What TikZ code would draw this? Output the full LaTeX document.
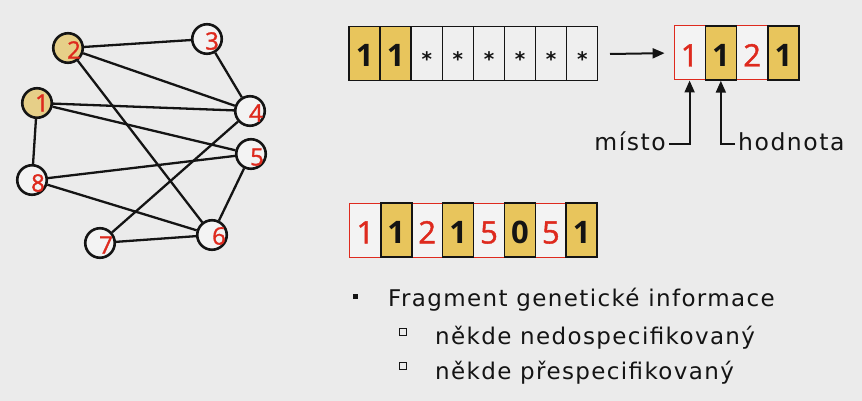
\documentclass[tikz,border=0pt]{standalone}
\usepackage{fontspec}
\setmainfont{DejaVu Sans}
\newfontfamily\spaced[LetterSpace=6]{DejaVu Sans}
\newfontfamily\spacedlab[LetterSpace=6.5]{DejaVu Sans}
\newfontfamily\digfont{Open Sans}
\newfontfamily\digsemi[FakeBold=1.3]{Open Sans}
\usetikzlibrary{arrows.meta}
\definecolor{bg}{HTML}{EBEBEB}
\definecolor{cellyel}{HTML}{E8C55C}
\definecolor{nodeyel}{HTML}{E6CF88}
\definecolor{cellgray}{HTML}{EFEFEF}
\definecolor{cellwhite}{HTML}{F3F3F3}
\definecolor{myred}{HTML}{DE2A1E}
\definecolor{ink}{HTML}{141414}
\begin{document}
\begin{tikzpicture}[x=1pt,y=-1pt,
  vert/.style={circle, draw=ink, line width=2.6pt, minimum size=29.5pt, inner sep=0pt, fill=cellwhite},
  yvert/.style={vert, fill=nodeyel},
  vlbl/.style={text=myred, font=\fontsize{24}{24}\digsemi, inner sep=0pt},
  edge/.style={draw=ink, line width=2.3pt},
  cellbase/.style={rectangle, minimum width=31pt, minimum height=54pt, inner sep=0pt, text height=27pt, text depth=0pt},
  ycell/.style={cellbase, fill=cellyel, draw=ink, line width=1.5pt, font=\fontsize{31}{31}\digfont\bfseries, text=ink},
  gcell/.style={cellbase, fill=cellgray, draw=ink, line width=1.2pt, font=\fontsize{20}{20}\selectfont\bfseries, text=ink},
  rcell/.style={cellbase, fill=cellwhite, draw=myred, line width=1pt, font=\fontsize{31}{31}\digsemi, text=myred},
  arr/.style={draw=ink, line width=2pt, -{Triangle[length=12pt,width=10pt]}},
  lab/.style={inner sep=0pt, text=ink, font=\fontsize{23.5}{23.5}\spacedlab},
  btxt/.style={inner sep=0pt, text=ink, font=\fontsize{23}{23}\spaced, anchor=base west}
]
\fill[bg] (0,0) rectangle (862,401);
\useasboundingbox (0,0) rectangle (862,401);

% graph
\node[yvert, label={[vlbl,xshift=6pt,yshift=-2pt]center:2}] (n2) at (68,48) {};
\node[vert,  label={[vlbl,xshift=5pt,yshift=-2pt]center:3}] (n3) at (207,39) {};
\node[yvert, label={[vlbl,xshift=5pt,yshift=0pt]center:1}] (n1) at (37,103) {};
\node[vert,  label={[vlbl,xshift=6pt,yshift=-2pt]center:4}] (n4) at (250,111) {};
\node[vert,  label={[vlbl,xshift=6pt,yshift=-3pt]center:5}] (n5) at (251,154) {};
\node[vert,  label={[vlbl,xshift=6pt,yshift=-3pt]center:8}] (n8) at (32,180) {};
\node[vert,  label={[vlbl,xshift=6pt,yshift=-2pt]center:7}] (n7) at (100,243) {};
\node[vert,  label={[vlbl,xshift=7pt,yshift=-1pt]center:6}] (n6) at (212,235) {};
\foreach \a/\b in {n2/n3,n2/n4,n2/n6,n3/n4,n1/n4,n1/n5,n1/n8,n8/n5,n8/n6,n4/n7,n5/n6,n7/n6}
  \draw[edge] (\a) -- (\b);

% top array
\foreach \i/\s/\t in {2/gcell/*,3/gcell/*,4/gcell/*,5/gcell/*,6/gcell/*,7/gcell/*,0/ycell/1,1/ycell/1}
  \node[\s] (t\i) at (364.6+31.1*\i,53.5) {\t};

% right array
\foreach \i/\s/\t in {0/rcell/1,2/rcell/2,1/ycell/1,3/ycell/1}
  \node[\s] (r\i) at (689.6+31.25*\i,53) {\t};

\coordinate (aStart) at (610,54);
\draw[arr, shorten >=9pt] (aStart) -- (r0.west);

% labels
\node[lab, anchor=base east] (misto) at (666,150) {místo};
\node[lab, anchor=base west] (hodnota) at (738,150) {hodnota};
\coordinate (mistoEnd) at (669,144);
\coordinate (hodnotaEnd) at (735,144);
\draw[arr] (mistoEnd) -| (r0.south);
\draw[arr] (hodnotaEnd) -| (r1.south);

% bottom array
\foreach \i/\s/\t in {0/rcell/1,2/rcell/2,4/rcell/5,6/rcell/5,1/ycell/1,3/ycell/1,5/ycell/0,7/ycell/1}
  \node[\s] (b\i) at (365.4+30.9*\i,230) {\t};

% bullets
\fill[ink] (352.5,293.5) rectangle (357.5,298.5);
\draw[ink, line width=1pt] (399.5,328.5) rectangle (406.5,335.5);
\draw[ink, line width=1pt] (399.5,362.5) rectangle (406.5,369.5);
\node[btxt] (l1) at (388,306) {Fragment genetické informace};
\node[btxt] (l2) at (435,344) {někde nedospecifikovaný};
\node[btxt] (l3) at (435,379) {někde přespecifikovaný};
\end{tikzpicture}
\end{document}
